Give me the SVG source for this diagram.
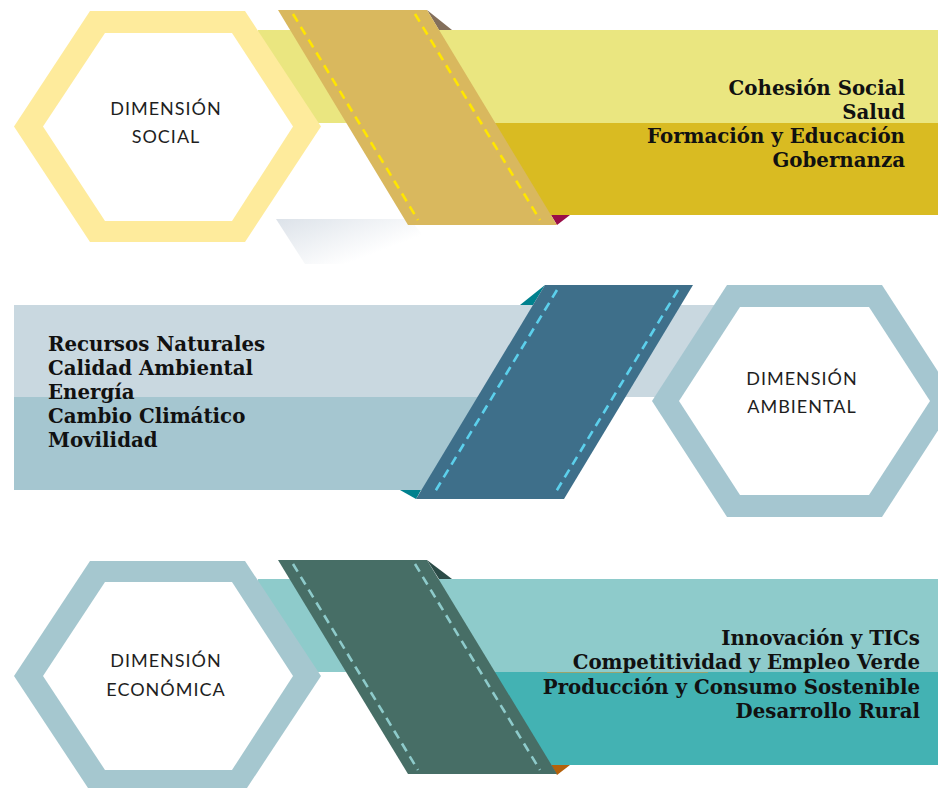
<svg xmlns="http://www.w3.org/2000/svg" width="938" height="788" viewBox="0 0 938 788">
<defs>
<style>
.lbl{font-family:"DejaVu Serif","Liberation Serif",serif;font-weight:bold;font-size:19.8px;fill:#111}
.hx{font-family:"Lato","Open Sans",sans-serif;font-size:18px;fill:#1E1E1E;text-anchor:middle;letter-spacing:1px}
.dash{fill:none;stroke-width:2.6;stroke-dasharray:9 6}
</style>
<linearGradient id="shadow" x1="0" y1="0" x2="1" y2="0.7">
<stop offset="0" stop-color="#DCE2E9"/>
<stop offset="0.75" stop-color="#FFFFFF"/>
</linearGradient>
</defs>
<rect width="938" height="788" fill="#FFFFFF"/>

<g id="social">
<polygon points="276,219 410,219 445,264 305,264" fill="url(#shadow)"/>
<rect x="258" y="30" width="680" height="93" fill="#EAE680"/>
<rect x="420" y="123" width="518" height="92" fill="#D9BB22"/>
<polygon points="427,10 452,30 439,30" fill="#836F5B"/>
<polygon points="551,215 570,215 557,225" fill="#9A0E48"/>
<polygon points="278,10 427,10 557,225 408,225" fill="#D9B85E"/>
<line class="dash" x1="293" y1="14" x2="418" y2="220" stroke="#FFE600"/>
<line class="dash" x1="415" y1="14" x2="540" y2="220" stroke="#FFE600"/>
<g id="hex-social">
<polygon points="14,126.5 90,11 245,11 321,126.5 245,242 90,242" fill="#FEEB9C"/>
<polygon points="43,126.5 105,33 232,33 293,126.5 232,221 105,221" fill="#FFFFFF"/>
<text class="hx" x="166" y="115">DIMENSIÓN</text>
<text class="hx" x="166" y="143">SOCIAL</text>
</g>
<g id="list-social" class="lbl" text-anchor="end">
<text x="905" y="95">Cohesión Social</text>
<text x="905" y="119">Salud</text>
<text x="905" y="143">Formación y Educación</text>
<text x="905" y="167">Gobernanza</text>
</g>
</g>

<g id="ambiental">
<rect x="14" y="305" width="720" height="92" fill="#C9D8E0"/>
<rect x="14" y="397" width="500" height="93" fill="#A5C6D0"/>
<polygon points="545,285 520,305 533,305" fill="#00818E"/>
<polygon points="421,490 400,490 416,499" fill="#00818E"/>
<polygon points="545,285 693,285 564,499 416,499" fill="#3E6F8A"/>
<line class="dash" x1="557" y1="290" x2="433" y2="495" stroke="#5CD0EC"/>
<line class="dash" x1="678" y1="290" x2="554" y2="495" stroke="#5CD0EC"/>
<g id="hex-ambiental">
<polygon points="652,401 727,285 882,285 957,401 882,517 727,517" fill="#A5C6D0"/>
<polygon points="679,401 740,307 869,307 930,401 869,495 740,495" fill="#FFFFFF"/>
<text class="hx" x="802" y="385">DIMENSIÓN</text>
<text class="hx" x="802" y="413">AMBIENTAL</text>
</g>
<g id="list-ambiental" class="lbl">
<text x="48" y="351">Recursos Naturales</text>
<text x="48" y="375">Calidad Ambiental</text>
<text x="48" y="399">Energía</text>
<text x="48" y="423">Cambio Climático</text>
<text x="48" y="447">Movilidad</text>
</g>
</g>

<g id="economica">
<rect x="258" y="579" width="680" height="93" fill="#8ECBCB"/>
<rect x="420" y="672" width="518" height="93" fill="#43B2B3"/>
<line x1="547" y1="672.5" x2="708" y2="672.5" stroke="#9AA46C" stroke-width="1"/>
<polygon points="427,560 452,579 439,579" fill="#2B4B47"/>
<polygon points="551,765 570,765 557,775" fill="#B4620B"/>
<polygon points="278,560 427,560 557,774 408,774" fill="#476E66"/>
<line class="dash" x1="293" y1="564" x2="418" y2="770" stroke="#8ECBCB"/>
<line class="dash" x1="415" y1="564" x2="540" y2="770" stroke="#8ECBCB"/>
<g id="hex-economica">
<polygon points="14,676 90,561 245,561 321,676 245,791 90,791" fill="#A5C7CF"/>
<polygon points="43,676 105,582 232,582 293,676 232,770 105,770" fill="#FFFFFF"/>
<text class="hx" x="166" y="667">DIMENSIÓN</text>
<text class="hx" x="166" y="696">ECONÓMICA</text>
</g>
<g id="list-economica" class="lbl" text-anchor="end">
<text x="920" y="645">Innovación y TICs</text>
<text x="920" y="669">Competitividad y Empleo Verde</text>
<text x="920" y="694">Producción y Consumo Sostenible</text>
<text x="920" y="718">Desarrollo Rural</text>
</g>
</g>
</svg>
